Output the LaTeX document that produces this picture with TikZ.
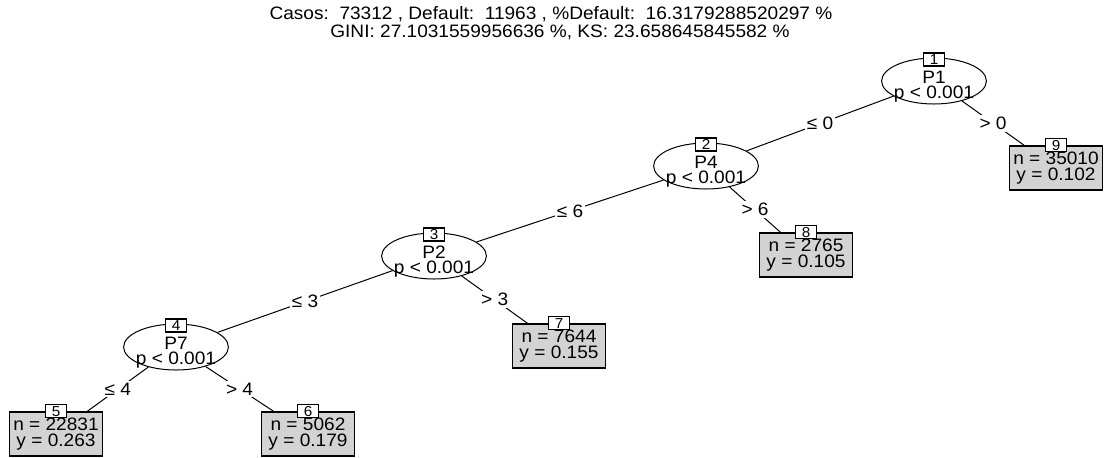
\documentclass[tikz,border=0pt]{standalone}
\usepackage{fontspec}
\setmainfont{Liberation Sans}[FakeStretch=1.06]
\usepackage{xcolor}
\usepackage{tikz}
\usetikzlibrary{shapes,positioning}

\definecolor{leafgray}{RGB}{211,211,211}

\begin{document}
\begin{tikzpicture}[
    x=0.5pt, y=-0.5pt,
    font=\fontsize{9}{7.6}\selectfont,
    split/.style={ellipse, draw, line width=0.5pt, fill=white, minimum width=52pt, minimum height=23pt, inner xsep=-1.5pt, inner ysep=-3pt, text height=19.5pt, align=center},
    leaf/.style={rectangle, draw, line width=0.7pt, fill=leafgray, minimum width=46.5pt, minimum height=22pt, inner sep=0pt, align=center},
    idbox/.style={rectangle, draw, line width=0.6pt, fill=white, font=\fontsize{7.2}{8}\selectfont, minimum width=10.5pt, minimum height=6.5pt, inner sep=0.3pt},
    edge/.style={draw, line width=0.5pt},
    elabel/.style={fill=white, inner sep=1pt}
]
    \useasboundingbox (0,0) rectangle (1108,457);

    % Title
    \node (title1) at (551,14) {Casos:\ \ 73312 , Default:\ \ 11963 , \%Default:\ \ 16.3179288520297 \%};
    \node (title2) at (560,32) {GINI: 27.1031559956636 \%, KS: 23.658645845582 \%};

    % Inner nodes
    \node[split] (t1) at (934,81) {P1\\p < 0.001};
    \node[split] (t2) at (706,166) {P4\\p < 0.001};
    \node[split] (t3) at (434,256) {P2\\p < 0.001};
    \node[split] (t4) at (176,347) {P7\\p < 0.001};

    % Terminal nodes
    \node[leaf] (t5) at (56,434) {n = 22831\\y = 0.263};
    \node[leaf] (t6) at (308,434) {n = 5062\\y = 0.179};
    \node[leaf] (t7) at (559,346) {n = 7644\\y = 0.155};
    \node[leaf] (t8) at (806,255) {n = 2765\\y = 0.105};
    \node[leaf] (t9) at (1056,168) {n = 35010\\y = 0.102};

    % Edges
    \draw[edge] (t1) -- node[elabel] {≤ 0} (t2);
    \draw[edge] (t1) -- node[elabel] {> 0} (t9);
    \draw[edge] (t2) -- node[elabel] {≤ 6} (t3);
    \draw[edge] (t2) -- node[elabel] {> 6} (t8);
    \draw[edge] (t3) -- node[elabel] {≤ 3} (t4);
    \draw[edge] (t3) -- node[elabel] {> 3} (t7);
    \draw[edge] (t4) -- node[elabel] {≤ 4} (t5);
    \draw[edge] (t4) -- node[elabel] {> 4} (t6);

    % Node ids
    \foreach \i in {1,...,4}
        \node[idbox] (id\i) at ([yshift=-1pt]t\i.north) {\i};
    \foreach \i in {5,...,9}
        \node[idbox] (id\i) at (t\i.north) {\i};

\end{tikzpicture}
\end{document}
